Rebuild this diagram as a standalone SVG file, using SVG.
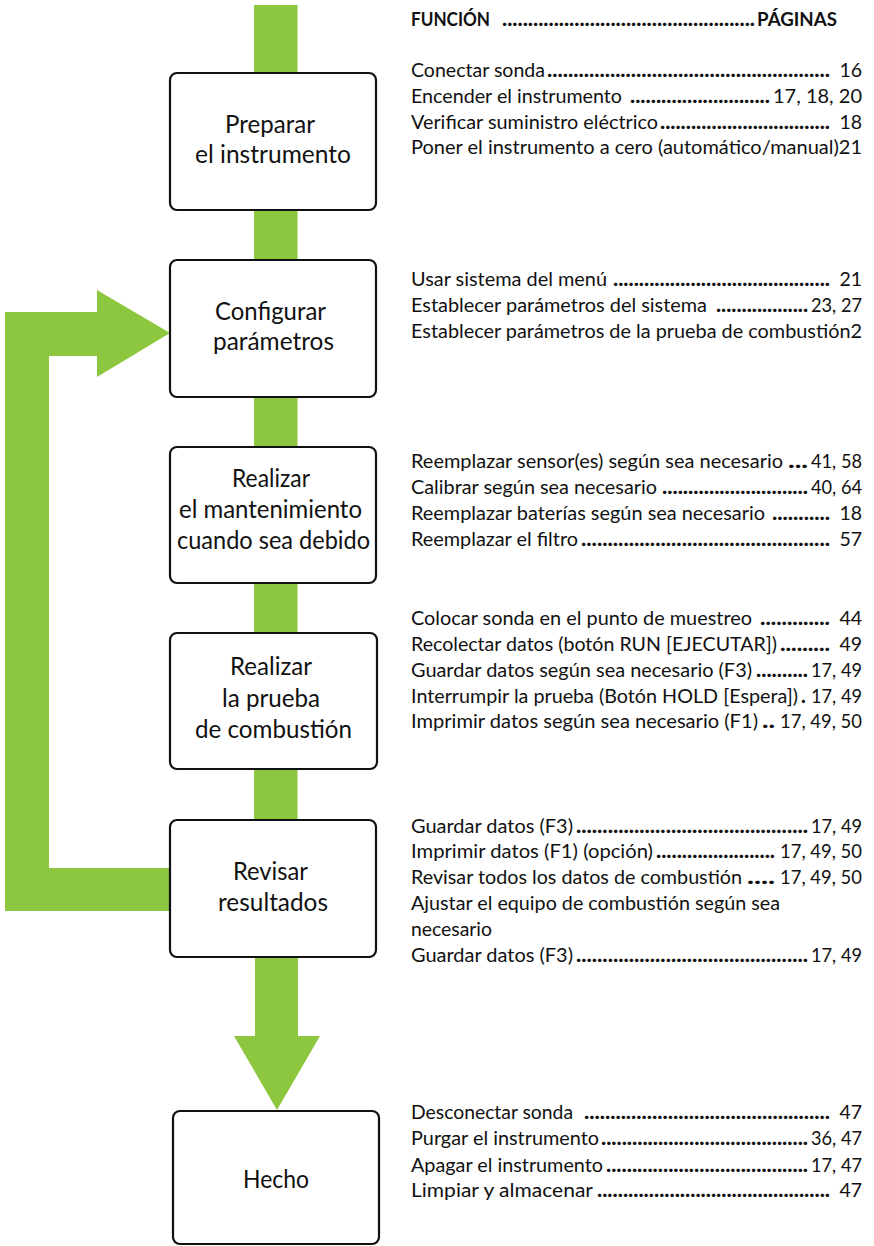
<svg xmlns="http://www.w3.org/2000/svg" width="874" height="1246" viewBox="0 0 874 1246">
<style>
text{font-family:Lato,"Open Sans","Liberation Sans",sans-serif;fill:#111}
.t{font-size:19.5px}
.h{font-size:19.5px;font-weight:bold}
.d{font-size:20px;font-weight:900}
.n{font-size:19.5px;text-anchor:end}
.b{font-size:25px;text-anchor:middle}
.box{fill:#fff;stroke:#111;stroke-width:2.2}
.g{fill:#8DC63F}
</style>
<rect width="874" height="1246" fill="#fff"/>
<g id="connectors">
<rect class="g" x="254" y="5" width="43.5" height="815"/>
<path class="g" d="M255 955 H298 V1036 H320 L277 1110 L234 1036 H255 Z"/>
<path class="g" d="M170 868 H49 V356 H97 V377 L170 333 L97 290 V312 H5 V911 H170 Z"/>
</g>
<g id="n1"><rect class="box" x="170" y="73" width="206" height="137" rx="7"/>
<text class="b" x="270" y="133" textLength="90" lengthAdjust="spacingAndGlyphs">Preparar</text>
<text class="b" x="273" y="163" textLength="156" lengthAdjust="spacingAndGlyphs">el instrumento</text></g>
<g id="n2"><rect class="box" x="170" y="260" width="206" height="137" rx="7"/>
<text class="b" x="270.5" y="320" textLength="111" lengthAdjust="spacingAndGlyphs">Configurar</text>
<text class="b" x="273.5" y="350" textLength="121" lengthAdjust="spacingAndGlyphs">parámetros</text></g>
<g id="n3"><rect class="box" x="170" y="447" width="206" height="136" rx="7"/>
<text class="b" x="271" y="487" textLength="78" lengthAdjust="spacingAndGlyphs">Realizar</text>
<text class="b" x="270.5" y="518" textLength="183" lengthAdjust="spacingAndGlyphs">el mantenimiento</text>
<text class="b" x="273.5" y="549" textLength="193" lengthAdjust="spacingAndGlyphs">cuando sea debido</text></g>
<g id="n4"><rect class="box" x="170" y="633" width="207" height="136" rx="7"/>
<text class="b" x="271" y="675" textLength="82" lengthAdjust="spacingAndGlyphs">Realizar</text>
<text class="b" x="271" y="707" textLength="98" lengthAdjust="spacingAndGlyphs">la prueba</text>
<text class="b" x="273.5" y="738" textLength="157" lengthAdjust="spacingAndGlyphs">de combustión</text></g>
<g id="n5"><rect class="box" x="170" y="820" width="206" height="137" rx="7"/>
<text class="b" x="270.5" y="880" textLength="75" lengthAdjust="spacingAndGlyphs">Revisar</text>
<text class="b" x="273" y="911" textLength="110" lengthAdjust="spacingAndGlyphs">resultados</text></g>
<g id="n6"><rect class="box" x="173" y="1111" width="206" height="133" rx="7"/>
<text class="b" x="276" y="1188" textLength="66" lengthAdjust="spacingAndGlyphs">Hecho</text></g>
<g id="header">
<text class="h" x="411" y="26" textLength="79" lengthAdjust="spacingAndGlyphs">FUNCIÓN</text>
<text class="d" x="502" y="26" textLength="253" lengthAdjust="spacingAndGlyphs">.................................................</text>
<text class="h" x="757" y="26" textLength="80" lengthAdjust="spacingAndGlyphs">PÁGINAS</text>
</g>
<g id="list1">
<text class="t" x="411" y="77" textLength="134" lengthAdjust="spacingAndGlyphs">Conectar sonda</text>
<text class="d" x="547" y="77" textLength="283" lengthAdjust="spacingAndGlyphs">......................................................</text>
<text class="n" x="862" y="77">16</text>
<text class="t" x="411" y="103" textLength="211" lengthAdjust="spacingAndGlyphs">Encender el instrumento</text>
<text class="d" x="630" y="103" textLength="140" lengthAdjust="spacingAndGlyphs">...........................</text>
<text class="n" x="862" y="103" textLength="89" lengthAdjust="spacingAndGlyphs">17, 18, 20</text>
<text class="t" x="411" y="129" textLength="247" lengthAdjust="spacingAndGlyphs">Verificar suministro eléctrico</text>
<text class="d" x="660" y="129" textLength="170" lengthAdjust="spacingAndGlyphs">.................................</text>
<text class="n" x="862" y="129">18</text>
<text class="t" x="411" y="154" textLength="451" lengthAdjust="spacingAndGlyphs">Poner el instrumento a cero (automático/manual)21</text>
</g>
<g id="list2">
<text class="t" x="411" y="286" textLength="196" lengthAdjust="spacingAndGlyphs">Usar sistema del menú</text>
<text class="d" x="613" y="286" textLength="217" lengthAdjust="spacingAndGlyphs">..........................................</text>
<text class="n" x="862" y="286">21</text>
<text class="t" x="411" y="312" textLength="296" lengthAdjust="spacingAndGlyphs">Establecer parámetros del sistema</text>
<text class="d" x="716" y="312" textLength="92" lengthAdjust="spacingAndGlyphs">..................</text>
<text class="n" x="862" y="312" textLength="51" lengthAdjust="spacingAndGlyphs">23, 27</text>
<text class="t" x="411" y="338" textLength="451" lengthAdjust="spacingAndGlyphs">Establecer parámetros de la prueba de combustión2</text>
</g>
<g id="list3">
<text class="t" x="411" y="468" textLength="372" lengthAdjust="spacingAndGlyphs">Reemplazar sensor(es) según sea necesario</text>
<text class="d" x="788" y="468" textLength="20" lengthAdjust="spacingAndGlyphs">...</text>
<text class="n" x="862" y="468" textLength="51" lengthAdjust="spacingAndGlyphs">41, 58</text>
<text class="t" x="411" y="494" textLength="246" lengthAdjust="spacingAndGlyphs">Calibrar según sea necesario</text>
<text class="d" x="662" y="494" textLength="146" lengthAdjust="spacingAndGlyphs">............................</text>
<text class="n" x="862" y="494" textLength="51" lengthAdjust="spacingAndGlyphs">40, 64</text>
<text class="t" x="411" y="520" textLength="354" lengthAdjust="spacingAndGlyphs">Reemplazar baterías según sea necesario</text>
<text class="d" x="772" y="520" textLength="58" lengthAdjust="spacingAndGlyphs">...........</text>
<text class="n" x="862" y="520">18</text>
<text class="t" x="411" y="546" textLength="167" lengthAdjust="spacingAndGlyphs">Reemplazar el filtro</text>
<text class="d" x="581" y="546" textLength="249" lengthAdjust="spacingAndGlyphs">...............................................</text>
<text class="n" x="862" y="546">57</text>
</g>
<g id="list4">
<text class="t" x="411" y="625" textLength="341" lengthAdjust="spacingAndGlyphs">Colocar sonda en el punto de muestreo</text>
<text class="d" x="760" y="625" textLength="70" lengthAdjust="spacingAndGlyphs">.............</text>
<text class="n" x="862" y="625">44</text>
<text class="t" x="411" y="651" textLength="366" lengthAdjust="spacingAndGlyphs">Recolectar datos (botón RUN [EJECUTAR])</text>
<text class="d" x="780" y="651" textLength="50" lengthAdjust="spacingAndGlyphs">.........</text>
<text class="n" x="862" y="651">49</text>
<text class="t" x="411" y="677" textLength="341" lengthAdjust="spacingAndGlyphs">Guardar datos según sea necesario (F3)</text>
<text class="d" x="756" y="677" textLength="52" lengthAdjust="spacingAndGlyphs">..........</text>
<text class="n" x="862" y="677" textLength="51" lengthAdjust="spacingAndGlyphs">17, 49</text>
<text class="t" x="411" y="703" textLength="387" lengthAdjust="spacingAndGlyphs">Interrumpir la prueba (Botón HOLD [Espera])</text>
<text class="d" x="801" y="703">.</text>
<text class="n" x="862" y="703" textLength="51" lengthAdjust="spacingAndGlyphs">17, 49</text>
<text class="t" x="411" y="728" textLength="347" lengthAdjust="spacingAndGlyphs">Imprimir datos según sea necesario (F1)</text>
<text class="d" x="762" y="728" textLength="13" lengthAdjust="spacingAndGlyphs">..</text>
<text class="n" x="862" y="728" textLength="82" lengthAdjust="spacingAndGlyphs">17, 49, 50</text>
</g>
<g id="list5">
<text class="t" x="411" y="833" textLength="162" lengthAdjust="spacingAndGlyphs">Guardar datos (F3)</text>
<text class="d" x="576" y="833" textLength="232" lengthAdjust="spacingAndGlyphs">............................................</text>
<text class="n" x="862" y="833" textLength="51" lengthAdjust="spacingAndGlyphs">17, 49</text>
<text class="t" x="411" y="858" textLength="242" lengthAdjust="spacingAndGlyphs">Imprimir datos (F1) (opción)</text>
<text class="d" x="656" y="858" textLength="119" lengthAdjust="spacingAndGlyphs">.......................</text>
<text class="n" x="862" y="858" textLength="82" lengthAdjust="spacingAndGlyphs">17, 49, 50</text>
<text class="t" x="411" y="884" textLength="331" lengthAdjust="spacingAndGlyphs">Revisar todos los datos de combustión</text>
<text class="d" x="747" y="884" textLength="28" lengthAdjust="spacingAndGlyphs">....</text>
<text class="n" x="862" y="884" textLength="82" lengthAdjust="spacingAndGlyphs">17, 49, 50</text>
<text class="t" x="411" y="910" textLength="369" lengthAdjust="spacingAndGlyphs">Ajustar el equipo de combustión según sea</text>
<text class="t" x="411" y="936" textLength="81" lengthAdjust="spacingAndGlyphs">necesario</text>
<text class="t" x="411" y="962" textLength="162" lengthAdjust="spacingAndGlyphs">Guardar datos (F3)</text>
<text class="d" x="576" y="962" textLength="232" lengthAdjust="spacingAndGlyphs">............................................</text>
<text class="n" x="862" y="962" textLength="51" lengthAdjust="spacingAndGlyphs">17, 49</text>
</g>
<g id="list6">
<text class="t" x="411" y="1119" textLength="162" lengthAdjust="spacingAndGlyphs">Desconectar sonda</text>
<text class="d" x="584" y="1119" textLength="246" lengthAdjust="spacingAndGlyphs">...............................................</text>
<text class="n" x="862" y="1119">47</text>
<text class="t" x="411" y="1145" textLength="188" lengthAdjust="spacingAndGlyphs">Purgar el instrumento</text>
<text class="d" x="601" y="1145" textLength="207" lengthAdjust="spacingAndGlyphs">........................................</text>
<text class="n" x="862" y="1145" textLength="51" lengthAdjust="spacingAndGlyphs">36, 47</text>
<text class="t" x="411" y="1172" textLength="192" lengthAdjust="spacingAndGlyphs">Apagar el instrumento</text>
<text class="d" x="606" y="1172" textLength="202" lengthAdjust="spacingAndGlyphs">.......................................</text>
<text class="n" x="862" y="1172" textLength="51" lengthAdjust="spacingAndGlyphs">17, 47</text>
<text class="t" x="411" y="1197" textLength="182" lengthAdjust="spacingAndGlyphs">Limpiar y almacenar</text>
<text class="d" x="597" y="1197" textLength="233" lengthAdjust="spacingAndGlyphs">.............................................</text>
<text class="n" x="862" y="1197">47</text>
</g>
</svg>
